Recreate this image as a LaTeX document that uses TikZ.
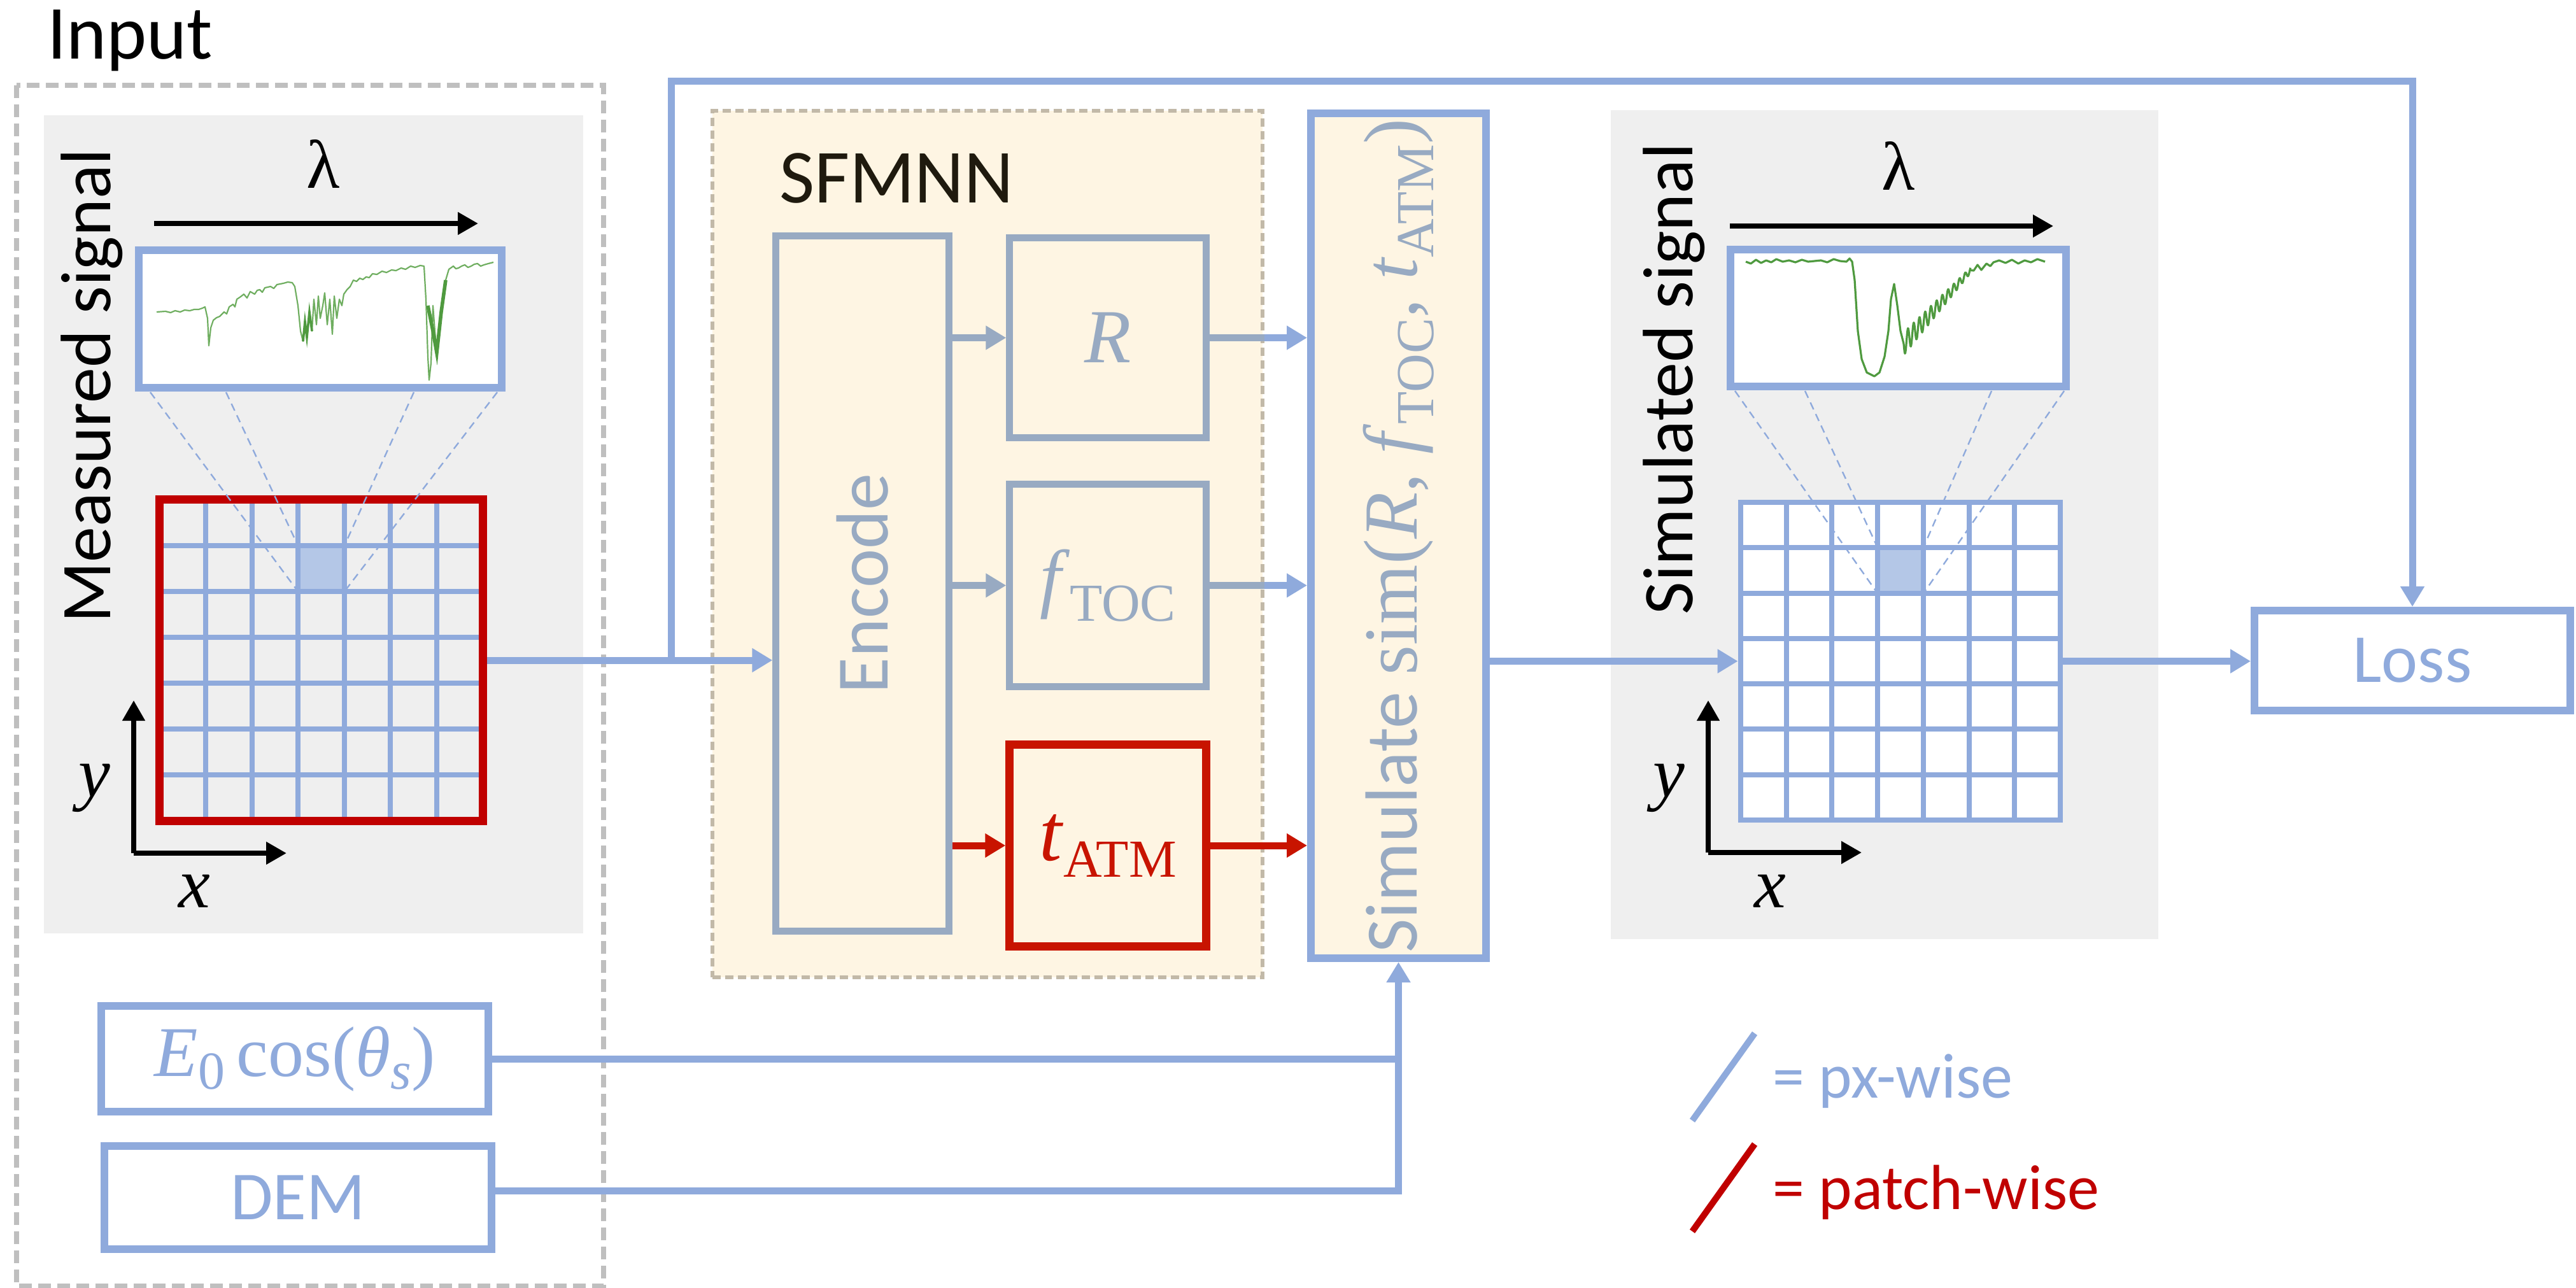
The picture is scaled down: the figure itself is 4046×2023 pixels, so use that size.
\documentclass[tikz,border=0pt]{standalone}
\usepackage{fontspec}
\setmainfont{Carlito}
\newfontfamily\serifm{Liberation Serif}
\usetikzlibrary{arrows.meta}
\definecolor{cblue}{HTML}{8FAADC}
\definecolor{cgb}{HTML}{98AAC2}
\definecolor{cred}{HTML}{C00000}
\definecolor{cred2}{HTML}{C81400}
\definecolor{ccream}{HTML}{FEF5E3}
\definecolor{cpanel}{HTML}{EFEFEF}
\definecolor{cdash}{HTML}{BFBFBF}
\definecolor{cdash2}{HTML}{C2B9A8}
\definecolor{cgreen}{HTML}{4F9A3F}
\definecolor{clgreen}{HTML}{6FAE60}
\definecolor{ccell}{HTML}{B4C7E7}
\definecolor{cdark}{HTML}{1F1A0E}
\newcommand\fs[1]{\fontsize{#1}{#1}\selectfont}
\newcommand\lowsub[2]{\raisebox{-#1}{\fs{21}#2}}
\begin{document}
\begin{tikzpicture}[x=0.25pt, y=-0.25pt,
  box/.style={draw, rectangle, inner sep=0pt},
  conn/.style={draw=cblue, line width=2.75pt},
  arr/.style={-{Triangle[length=8pt,width=9pt]}},
  blk/.style={draw=black, line width=1.9pt, -{Triangle[length=8pt,width=8.5pt]}},
  frust/.style={draw=cblue, line width=0.6pt, dash pattern=on 3pt off 2pt},
  gline/.style={draw=cblue, line width=2pt},
  spec/.style={draw=cgreen, line width=0.55pt, line join=round}]
\useasboundingbox (0,0) rectangle (4046,2023);

% ---------- backgrounds ----------
\fill[cpanel] (69,181) rectangle (916,1466);
\fill[cpanel] (2530,173) rectangle (3390,1475);
\draw[cdash, line width=2pt, dash pattern=on 5pt off 2.5pt] (26,134) rectangle (948,2020);
\node[box, draw=cdash2, fill=ccream, line width=1.6pt, dash pattern=on 3.2pt off 1.8pt,
      minimum width=216pt, minimum height=340.25pt] (sfm) at (1551,854.5) {};

% ---------- titles ----------
\node[anchor=base west, font=\fs{30}] (inp) at (60,93) {Input};
\node[anchor=base west, font=\fs{30}, text=cdark] (sfmt) at (1210,318) {SFMNN};
\node[anchor=base, rotate=90, font=\fs{28}] (msig) at (173,606) {Measured signal};
\node[anchor=base, rotate=90, font=\fs{28}] (ssig) at (2658,595) {Simulated signal};

% ---------- left signal ----------
\node[font=\serifm\fs{27}] (lamL) at (508,257) {λ};
\coordinate (laL0) at (242,351); \coordinate (laL1) at (751,351);
\draw[blk] (laL0) -- (laL1);

\fill[ccell] (468.2,856.6) rectangle (540.8,928.8);
\foreach \i in {1,...,6} {
  \draw[gline] ({250.5+72.57*\i},784.5) -- ({250.5+72.57*\i},1289.5);
  \draw[gline] (250.5,{784.5+72.14*\i}) -- (758.5,{784.5+72.14*\i});
}
\node[box, draw=cred, line width=3.25pt, minimum width=127pt, minimum height=126.25pt] (gridL) at (504.5,1037) {};
\draw[frust] (236,616) -- (468,929);
\draw[frust] (355,616) -- (468,857);
\draw[frust] (650,616) -- (541,857);
\draw[frust] (781,616) -- (541,929);
\node[box, draw=cblue, fill=white, line width=3pt, minimum width=142.5pt, minimum height=54pt] (specL) at (503,501) {};
\draw[spec, draw=clgreen] plot coordinates {(246,490) (260,489) (268,491) (275,488) (283,490) (290,487) (298,488) (305,486) (312,486) (318,484) (322,482) (326,500) (328,543) (331,515) (335,503) (340,499) (345,497) (352,490) (356,493) (360,482) (366,478) (369,482) (372,470) (378,466) (383,462) (388,468) (393,458) (400,462) (404,456) (408,455) (412,459) (416,452) (425,450) (430,453) (435,447) (445,445) (452,443) (459,444) (463,450) (468,480) (472,520) (476,536) (479,505) (482,530) (486,490) (490,520) (493,470) (497,510) (500,465) (503,500) (507,480) (510,460) (514,510) (518,470) (522,525) (525,465) (529,500) (533,470) (537,480) (540,462) (545,455) (550,450) (555,440) (560,442) (565,437) (570,439) (575,435) (580,436) (585,430) (592,431) (600,426) (607,428) (615,424) (622,425) (630,421) (637,423) (645,418) (652,420) (660,417) (666,418) (669,470) (672,560) (674,597) (677,570) (680,480) (683,520) (686,554) (690,520) (695,470) (700,440) (705,423) (712,418) (716,422) (720,421) (725,418) (730,416) (735,420) (740,418) (745,415) (750,414) (755,418) (760,416) (767,414) (775,412)};
\draw[cgreen, line width=1.4pt] (672,480) -- (680,520) -- (686,554) -- (693,490) -- (700,440);
\draw[cgreen, line width=0.9pt] (476,536) -- (479,505) -- (482,530) -- (486,490) -- (490,520);
\coordinate (yL0) at (210,1340); \coordinate (yL1) at (210,1100); \coordinate (xL1) at (450,1340);
\draw[blk] (yL0) -- (yL1);
\draw[blk] (yL0) -- (xL1);
\node[font=\serifm\itshape\fs{28}] (yLt) at (148,1238) {y};
\node[font=\serifm\itshape\fs{28}] (xLt) at (305,1400) {x};

% ---------- right signal ----------
\node[font=\serifm\fs{27}] (lamR) at (2982,260) {λ};
\coordinate (laR0) at (2717,355); \coordinate (laR1) at (3225,355);
\draw[blk] (laR0) -- (laR1);
\fill[white] (2734,789) rectangle (3236,1288);
\fill[ccell] (2949,860) rectangle (3021,932);
\foreach \i in {1,...,6} {
  \draw[gline] ({2734+71.71*\i},789) -- ({2734+71.71*\i},1288);
  \draw[gline] (2734,{789+71.29*\i}) -- (3236,{789+71.29*\i});
}
\node[box, draw=cblue, line width=2.2pt, minimum width=125.5pt, minimum height=124.75pt] (gridR) at (2985,1038.5) {};
\draw[frust] (2725,614) -- (2949,932);
\draw[frust] (2835,614) -- (2949,860);
\draw[frust] (3128,614) -- (3021,860);
\draw[frust] (3242,614) -- (3021,932);
\node[box, draw=cblue, fill=white, line width=3pt, minimum width=131.75pt, minimum height=53.75pt] (specR) at (2981.5,499.5) {};
\draw[spec, line width=0.8pt] plot coordinates {(2742,411) (2750,414) (2758,408) (2766,413) (2774,409) (2782,412) (2790,407) (2800,411) (2810,409) (2820,412) (2830,408) (2840,411) (2850,410) (2860,409) (2870,412) (2880,407) (2890,410) (2900,411) (2905,406) (2909,411) (2913,440) (2918,520) (2924,564) (2932,585) (2944,591) (2952,585) (2960,560) (2966,520) (2970,470) (2975,446) (2980,480) (2985,520) (2990,540)};
\draw[spec, line width=0.8pt] plot[domain=2990:3095, samples=160] (\x, {540-(\x-2990)*1.1+18*(1-(\x-2990)/140)*sin((\x-2990)*40)});
\draw[spec, line width=0.8pt] plot coordinates {(3095,424.5) (3100,425) (3106,416) (3112,424) (3120,414) (3126,418) (3131,412) (3140,409) (3150,413) (3160,408) (3170,414) (3180,409) (3190,412) (3200,407) (3212,411)};
\coordinate (yR0) at (2683,1339); \coordinate (yR1) at (2683,1100); \coordinate (xR1) at (2924,1339);
\draw[blk] (yR0) -- (yR1);
\draw[blk] (yR0) -- (xR1);
\node[font=\serifm\itshape\fs{28}] (yRt) at (2621,1238) {y};
\node[font=\serifm\itshape\fs{28}] (xRt) at (2780,1400) {x};

% ---------- SFMNN content ----------
\node[box, draw=cgb, line width=2.6pt, minimum width=68pt, minimum height=273pt, text=cgb, font=\fs{29}] (enc) at (1354.5,916.5) {\rotatebox{90}{Encode}};
\node[box, draw=cgb, line width=2.6pt, minimum width=77.25pt, minimum height=78.5pt, text=cgb, font=\serifm\itshape\fs{30}] (r) at (1740,530.5) {R};
\node[box, draw=cgb, line width=2.6pt, minimum width=77.25pt, minimum height=79.5pt, text=cgb, font=\serifm\fs{30}] (f) at (1740,919.5) {\textit{f}\lowsub{7pt}{TOC}};
\node[box, draw=cred2, line width=3.1pt, minimum width=77.25pt, minimum height=79.25pt, text=cred2, font=\serifm\fs{32}] (t) at (1740,1328) {\textit{t}\lowsub{6.5pt}{ATM}};

% ---------- simulate ----------
\node[box, draw=cblue, fill=ccream, line width=3pt, minimum width=68.75pt, minimum height=331.75pt, text=cgb, font=\fs{29}] (sim) at (2196.5,841.5)
  {\rotatebox{90}{Simulate {\serifm\fs{30}sim(\textit{R}, \textit{f}\lowsub{6.5pt}{TOC}, \textit{t}\lowsub{6.5pt}{ATM})}}};

% ---------- inputs ----------
\node[box, draw=cblue, line width=3pt, minimum width=152pt, minimum height=41.5pt, text=cblue, font=\serifm\fs{28}] (e0) at (463,1663)
  {\textit{E}\lowsub{5pt}{0}\,cos(\textit{θ}\lowsub{5pt}{\textit{s}})};
\node[box, draw=cblue, line width=3pt, minimum width=152pt, minimum height=40.5pt, text=cblue, font=\fs{27}] (dem) at (468,1881) {DEM};
\node[box, draw=cblue, line width=3pt, minimum width=124pt, minimum height=39.25pt, text=cblue, font=\fs{27}] (loss) at (3789,1037.5) {Loss};

% ---------- connectors ----------
\coordinate (jn) at (1054,1037);
\coordinate (tc) at (1054,128);
\draw[conn, arr] (gridL.east) -- (gridL.east -| enc.west);
\draw[conn, arr, line join=miter] (jn) -- (tc) -| (loss.north);
\draw[conn, draw=cgb, arr] (enc.east |- r.west) -- (r.west);
\draw[conn, draw=cgb, arr] (enc.east |- f.west) -- (f.west);
\draw[conn, draw=cred2, arr] (enc.east |- t.west) -- (t.west);
\draw[conn, arr] (r.east) -- (r.east -| sim.west);
\draw[conn, draw=cgb] (r.east) -- (r.east -| sfm.east);
\draw[conn, arr] (f.east) -- (f.east -| sim.west);
\draw[conn, draw=cgb] (f.east) -- (f.east -| sfm.east);
\draw[conn, draw=cred2, arr] (t.east) -- (t.east -| sim.west);
\draw[conn, arr] (sim.east |- gridR.west) -- (gridR.west);
\draw[conn, arr] (gridR.east) -- (gridR.east -| loss.west);
\draw[conn] (e0.east) -- (e0.east -| sim.south);
\draw[conn, arr] ([yshift=2.75pt]dem.east) -| (sim.south);

% ---------- legend ----------
\coordinate (lb0) at (2658,1760); \coordinate (lb1) at (2756,1623);
\coordinate (lr0) at (2658,1934); \coordinate (lr1) at (2756,1797);
\draw[cblue, line width=2.5pt] (lb0) -- (lb1);
\draw[cred, line width=2.5pt] (lr0) -- (lr1);
\node[anchor=base west, font=\fs{25}, text=cblue] (lgb) at (2770,1724) {= px-wise};
\node[anchor=base west, font=\fs{25}, text=cred] (lgr) at (2770,1899) {= patch-wise};
\end{tikzpicture}
\end{document}
